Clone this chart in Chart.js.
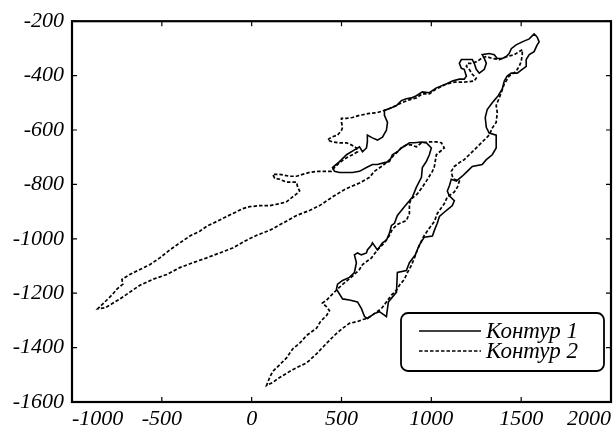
<!DOCTYPE html>
<html>
<head>
<meta charset="utf-8">
<script src="https://cdn.jsdelivr.net/npm/chart.js@4.4.1/dist/chart.umd.min.js"></script>
<style>
  html, body { margin: 0; padding: 0; background: #fff; }
  #wrap { width: 615px; height: 430px; }
</style>
</head>
<body>
<div id="wrap"><canvas id="contourChart" width="615" height="430"></canvas></div>
<script>
// axis ranges and tick steps
const xRange = [-1000, 2000]
const yRange = [-1600, -200]
const xStep = 500
const yStep = 200

const seriesNames = ['Контур 1', 'Контур 2']

// Контур 1 (solid), [x, y]
const contour1 = [
  [1589,-258],[1600,-276],[1589,-287],[1572,-312],[1545,-323],[1528,-341],[1528,-366],[1506,-377],
  [1478,-391],[1445,-391],[1422,-402],[1406,-420],[1395,-449],[1372,-474],[1339,-500],[1311,-525],
  [1300,-554],[1306,-590],[1322,-611],[1361,-619],[1361,-666],[1339,-691],[1306,-709],[1283,-727],
  [1228,-734],[1200,-752],[1172,-770],[1139,-788],[1111,-781],[1100,-806],[1089,-824],[1100,-842],
  [1128,-860],[1117,-878],[1083,-896],[1045,-918],[1033,-943],[1017,-969],[1006,-990],[961,-994],
  [933,-1023],[911,-1059],[878,-1088],[861,-1117],[811,-1124],[806,-1196],[761,-1232],[750,-1286],
  [711,-1268],[683,-1275],[644,-1293],[628,-1286],[611,-1257],[589,-1232],[544,-1225],[506,-1221],
  [472,-1185],[478,-1167],[506,-1153],[544,-1142],[572,-1124],[583,-1088],[572,-1059],[589,-1052],
  [611,-1059],[639,-1052],[644,-1041],[667,-1023],[672,-1015],[700,-1041],[728,-1015],[750,-1005],
  [767,-979],[778,-951],[795,-943],[811,-914],[850,-882],[878,-860],[895,-846],[917,-810],
  [945,-774],[950,-738],[972,-716],[989,-691],[1000,-666],[972,-647],[945,-644],[906,-647],
  [878,-647],[861,-655],[833,-666],[811,-680],[783,-691],[767,-716],[739,-720],[700,-727],
  [672,-727],[639,-738],[600,-752],[561,-756],[528,-756],[489,-756],[461,-752],[450,-738],
  [489,-716],[528,-691],[572,-673],[600,-662],[617,-680],[639,-666],[644,-644],[644,-619],
  [672,-629],[700,-637],[728,-626],[750,-601],[756,-572],[739,-546],[739,-528],[778,-518],
  [806,-510],[833,-492],[861,-485],[889,-482],[917,-474],[950,-460],[989,-463],[1028,-445],
  [1083,-431],[1117,-420],[1156,-413],[1183,-413],[1195,-402],[1183,-377],[1167,-373],[1156,-355],
  [1167,-341],[1228,-341],[1239,-355],[1250,-377],[1267,-391],[1295,-377],[1306,-355],[1295,-337],
  [1283,-323],[1322,-319],[1350,-323],[1367,-337],[1395,-337],[1417,-330],[1433,-319],[1445,-301],
  [1472,-287],[1506,-276],[1545,-265],[1572,-247],[1589,-258]
]

// Контур 2 (dashed)
const contour2 = [
  [1506,-305],[1461,-323],[1422,-330],[1378,-341],[1339,-337],[1306,-330],[1278,-337],[1256,-348],
  [1222,-355],[1200,-355],[1195,-366],[1211,-377],[1228,-395],[1250,-409],[1239,-420],[1183,-424],
  [1128,-424],[1083,-431],[1028,-449],[989,-467],[950,-467],[917,-482],[878,-489],[833,-500],
  [806,-510],[767,-521],[739,-528],[700,-536],[656,-539],[600,-546],[561,-554],[528,-557],
  [500,-557],[500,-572],[506,-590],[500,-601],[478,-619],[444,-626],[422,-637],[450,-644],
  [489,-647],[528,-647],[556,-655],[583,-666],[589,-680],[561,-691],[528,-702],[489,-720],
  [461,-738],[444,-752],[394,-752],[361,-752],[322,-756],[283,-763],[250,-770],[211,-770],
  [156,-763],[117,-763],[128,-777],[156,-781],[194,-792],[250,-792],[256,-810],[267,-824],
  [250,-835],[228,-846],[194,-864],[156,-871],[100,-878],[44,-878],[-11,-882],[-50,-889],
  [-83,-900],[-139,-918],[-194,-936],[-250,-954],[-289,-972],[-344,-990],[-400,-1015],[-456,-1041],
  [-511,-1070],[-567,-1095],[-622,-1113],[-678,-1131],[-722,-1149],[-717,-1167],[-750,-1185],[-778,-1207],
  [-806,-1225],[-845,-1250],[-856,-1257],[-817,-1254],[-778,-1239],[-733,-1221],[-678,-1196],[-622,-1171],
  [-550,-1149],[-472,-1131],[-400,-1106],[-328,-1088],[-250,-1070],[-178,-1052],[-106,-1034],[-28,-1005],
  [28,-987],[100,-969],[172,-943],[250,-914],[322,-896],[378,-878],[450,-846],[522,-817],
  [600,-795],[656,-774],[683,-752],[722,-734],[750,-720],[778,-702],[806,-684],[833,-666],
  [861,-655],[889,-655],[917,-662],[945,-647],[989,-644],[1028,-644],[1056,-647],[1072,-666],
  [1028,-691],[1017,-734],[1006,-752],[972,-788],[950,-810],[922,-835],[889,-853],[878,-871],
  [878,-907],[861,-933],[811,-947],[783,-965],[767,-987],[739,-1015],[700,-1041],[667,-1070],
  [617,-1095],[600,-1113],[572,-1131],[533,-1153],[500,-1171],[472,-1189],[444,-1207],[417,-1225],
  [394,-1236],[417,-1250],[433,-1264],[417,-1282],[383,-1304],[361,-1329],[306,-1355],[267,-1384],
  [228,-1405],[194,-1438],[156,-1463],[117,-1488],[100,-1510],[83,-1539],[117,-1528],[156,-1510],
  [228,-1481],[306,-1456],[361,-1423],[417,-1384],[467,-1351],[506,-1329],[544,-1311],[589,-1304],
  [617,-1297],[644,-1293],[683,-1275],[722,-1257],[750,-1232],[778,-1207],[806,-1189],[822,-1171],
  [850,-1149],[867,-1124],[889,-1098],[906,-1070],[922,-1041],[945,-1008],[961,-987],[989,-961],
  [1017,-936],[1033,-907],[1072,-871],[1089,-846],[1128,-828],[1145,-810],[1156,-788],[1128,-781],
  [1117,-770],[1111,-752],[1128,-734],[1156,-720],[1183,-709],[1211,-691],[1250,-666],[1283,-644],
  [1322,-619],[1339,-593],[1361,-572],[1367,-536],[1361,-510],[1389,-463],[1406,-431],[1433,-402],
  [1472,-384],[1489,-366],[1500,-348],[1506,-323],[1506,-305]
]

const toPoints = arr => arr.map(p => ({ x: p[0], y: p[1] }))

const serifFont = "'Liberation Serif', 'Times New Roman', serif"
Chart.defaults.font.family = serifFont
Chart.defaults.color = '#000'

// box round the plot with inward ticks on all four sides
const frameTicks = {
  id: 'frameTicks',
  afterDraw(chart) {
    const { ctx, chartArea: a, scales } = chart
    const len = 5
    ctx.save()
    ctx.strokeStyle = '#000'
    ctx.lineWidth = 1.2
    ctx.beginPath()
    scales.x.ticks.forEach(t => {
      const px = scales.x.getPixelForValue(t.value)
      ctx.moveTo(px, a.bottom); ctx.lineTo(px, a.bottom - len)
      ctx.moveTo(px, a.top); ctx.lineTo(px, a.top + len)
    })
    scales.y.ticks.forEach(t => {
      const py = scales.y.getPixelForValue(t.value)
      ctx.moveTo(a.left, py); ctx.lineTo(a.left + len, py)
      ctx.moveTo(a.right, py); ctx.lineTo(a.right - len, py)
    })
    ctx.stroke()
    ctx.lineWidth = 2.2
    ctx.strokeRect(a.left, a.top, a.right - a.left, a.bottom - a.top)
    ctx.restore()
  }
}

// legend in the lower right corner, rounded box
const boxLegend = {
  id: 'boxLegend',
  afterDraw(chart) {
    const { ctx, chartArea: a } = chart
    const w = 203, h = 58
    const bx = a.right - 210, by = a.bottom - 89
    ctx.save()
    ctx.fillStyle = '#fff'
    ctx.strokeStyle = '#000'
    ctx.lineWidth = 1.8
    ctx.beginPath()
    ctx.roundRect(bx, by, w, h, 7)
    ctx.fill()
    ctx.stroke()
    chart.data.datasets.forEach((ds, i) => {
      const ly = by + 18 + i * 20
      ctx.beginPath()
      ctx.setLineDash(ds.borderDash || [])
      ctx.lineWidth = 1.4
      ctx.moveTo(bx + 18, ly)
      ctx.lineTo(bx + 80, ly)
      ctx.stroke()
      ctx.setLineDash([])
      ctx.fillStyle = '#000'
      ctx.font = 'italic 23px ' + serifFont
      ctx.textBaseline = 'middle'
      ctx.fillText(ds.label, bx + 85, ly + 1)
    })
    ctx.restore()
  }
}

const ctx = document.getElementById('contourChart')
const myChart = new Chart(ctx, {
  type: 'scatter',
  data: {
    datasets: [{
      label: seriesNames[0],
      data: toPoints(contour1),
      showLine: true,
      borderColor: '#000',
      borderWidth: 1.6,
      pointRadius: 0,
      tension: 0
    }, {
      label: seriesNames[1],
      data: toPoints(contour2),
      showLine: true,
      borderColor: '#000',
      borderWidth: 1.7,
      borderDash: [3.5, 2],
      pointRadius: 0,
      tension: 0
    }]
  },
  options: {
    responsive: false,
    animation: false,
    layout: { padding: { top: 14, right: 3, left: 0, bottom: 0 } },
    plugins: {
      legend: { display: false },
      tooltip: { enabled: false }
    },
    scales: {
      x: {
        type: 'linear',
        min: xRange[0],
        max: xRange[1],
        grid: { display: false, drawTicks: false },
        border: { display: false },
        ticks: {
          stepSize: xStep,
          align: 'inner',
          padding: 4,
          maxRotation: 0,
          font: { size: 22, style: 'italic' },
          callback: v => String(v)
        },
        afterFit: s => { s.height = 28 }
      },
      y: {
        type: 'linear',
        min: yRange[0],
        max: yRange[1],
        grid: { display: false, drawTicks: false },
        border: { display: false },
        ticks: {
          stepSize: yStep,
          padding: 8,
          font: { size: 22, style: 'italic' },
          callback: v => String(v)
        },
        afterFit: s => { s.width = 72 }
      }
    }
  },
  plugins: [frameTicks, boxLegend]
})
</script>
</body>
</html>
